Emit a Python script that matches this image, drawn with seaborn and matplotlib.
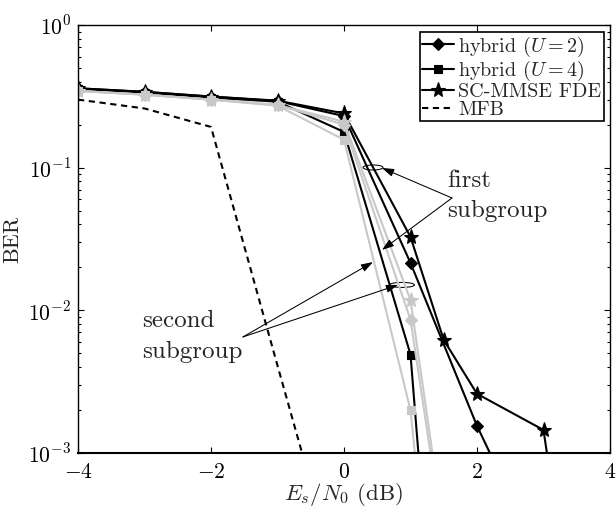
import numpy as np
import pandas as pd
import matplotlib
matplotlib.use("Agg")
import matplotlib.pyplot as plt
import seaborn as sns
from matplotlib.ticker import FixedLocator, FuncFormatter, LogLocator, NullFormatter
from matplotlib.patches import Ellipse
from matplotlib.transforms import ScaledTranslation

# ---- BER curves (Es/N0 in dB) ----
# first subgroup (black)
snr_sc = [-4, -3, -2, -1, 0, 1, 1.5, 2, 3, 4]
ber_sc_1 = [0.36, 0.34, 0.315, 0.295, 0.24, 0.0327, 0.0062, 0.0026, 0.00145, 1e-6]
snr_u2 = [-4, -3, -2, -1, 0, 1, 2, 2.5]
ber_u2_1 = [0.36, 0.34, 0.315, 0.293, 0.23, 0.0215, 0.00155, 5e-4]
snr_u4 = [-4, -3, -2, -1, 0, 1, 1.5]
ber_u4_1 = [0.355, 0.335, 0.31, 0.29, 0.178, 0.0049, 6e-6]

# second subgroup (grey)
snr_sub2 = [-4, -3, -2, -1, 0, 1, 1.5]
ber_sc_2 = [0.345, 0.325, 0.30, 0.275, 0.21, 0.0118, 2.8e-4]
ber_u2_2 = [0.345, 0.325, 0.30, 0.275, 0.20, 0.0086, 2.4e-4]
ber_u4_2 = [0.345, 0.325, 0.30, 0.272, 0.157, 0.002, 1e-5]

# matched filter bound
snr_mfb = [-4, -3, -2, -1, 0]
ber_mfb = [0.30, 0.26, 0.193, 0.0041, 9e-5]

labels = [r"hybrid ($U=2$)", r"hybrid ($U=4$)", "SC-MMSE FDE", "MFB"]
x_ticks = [-4, -2, 0, 2, 4]
y_ticks = [1e-3, 1e-2, 1e-1, 1e0]

sns.set_style("ticks")
plt.rcParams["font.family"] = ["cmr10"]
plt.rcParams["mathtext.fontset"] = "cm"
plt.rcParams["axes.unicode_minus"] = False
plt.rcParams["axes.formatter.use_mathtext"] = True

fig = plt.figure(figsize=(6.16, 5.08), dpi=100)
ax = fig.add_axes([78 / 616, 55 / 508, 532 / 616, 428 / 508])

BLACK = "black"
GREY = "#c8c8c8"
LW = 1.5


def curve(x, y, color, marker, ms, **kw):
    df = pd.DataFrame({"snr": x, "ber": y})
    sns.lineplot(data=df, x="snr", y="ber", ax=ax, color=color, lw=LW,
                 marker=marker, markersize=ms, markeredgecolor=color,
                 markeredgewidth=0.8, sort=False, estimator=None, **kw)
    return ax.lines[-1]


h_u2 = curve(snr_u2, ber_u2_1, BLACK, "D", 6)
h_u4 = curve(snr_u4, ber_u4_1, BLACK, "s", 6)
h_sc = curve(snr_sc, ber_sc_1, BLACK, "*", 11)

curve(snr_sub2, ber_u4_2, GREY, "s", 6)
curve(snr_sub2, ber_u2_2, GREY, "D", 6)
curve(snr_sub2, ber_sc_2, GREY, "*", 11)

h_mfb = curve(snr_mfb, ber_mfb, BLACK, None, 0, linestyle=(0, (3.0, 2.2)))

ax.set_yscale("log")
ax.set_xlim(-4, 4)
ax.set_ylim(1e-3, 1)

ax.xaxis.set_major_locator(FixedLocator(x_ticks))
ax.xaxis.set_major_formatter(FuncFormatter(lambda v, p: rf"${v:g}$"))
ax.yaxis.set_major_locator(FixedLocator(y_ticks))
ax.yaxis.set_minor_locator(LogLocator(base=10, subs=np.arange(2, 10)))
ax.yaxis.set_minor_formatter(NullFormatter())
ax.yaxis.set_major_formatter(
    FuncFormatter(lambda v, p: rf"$10^{{{int(round(np.log10(v)))}}}$"))

ax.tick_params(which="both", direction="in", top=True, right=True,
               width=0.8, colors="black", labelsize=15.5)
ax.tick_params(which="major", length=4)
ax.tick_params(which="minor", length=2.5)
ax.tick_params(axis="x", pad=7)
ax.tick_params(axis="y", pad=5)
for s in ax.spines.values():
    s.set_color("black")
    s.set_linewidth(1.0)
ax.spines["bottom"].set_linewidth(1.5)

ax.set_xlabel(r"$E_s/N_0$ (dB)", fontsize=16.5, labelpad=-1)
ax.set_ylabel("BER", fontsize=16, labelpad=4)

leg = ax.legend([h_u2, h_u4, h_sc, h_mfb], labels, loc="upper right",
                bbox_to_anchor=(0.9887, 0.9836), borderaxespad=0,
                fontsize=14.5, handlelength=1.6, handletextpad=0.2,
                labelspacing=0.0, borderpad=0.12, fancybox=False,
                framealpha=1, edgecolor="black")
leg.get_frame().set_linewidth(1.2)

# subgroup annotations
akw = dict(arrowstyle="-|>,head_length=0.6,head_width=0.2", color="black",
           lw=0.75, shrinkA=0, shrinkB=0, mutation_scale=12)
for tip in [(0.571, 0.0995), (0.571, 0.0265)]:
    ax.annotate("", xy=tip, xytext=(1.624, 0.0613), arrowprops=akw)
for tip in [(0.436, 0.0218), (0.812, 0.01507)]:
    ax.annotate("", xy=tip, xytext=(-1.519, 0.00651), arrowprops=akw)

for xc, yc, w in [(0.436, 0.1003, 0.20), (0.872, 0.01507, 0.25)]:
    ax.add_patch(Ellipse((0, 0), w, 0.05, fill=False, lw=0.75, color="black",
                         transform=fig.dpi_scale_trans
                         + ScaledTranslation(xc, yc, ax.transData)))

ax.text(1.55, 0.0732, "first", fontsize=18, ha="left", va="baseline")
ax.text(1.55, 0.0451, "subgroup", fontsize=18, ha="left", va="baseline")
ax.text(-3.04, 0.00765, "second", fontsize=18, ha="left", va="baseline")
ax.text(-3.04, 0.00464, "subgroup", fontsize=18, ha="left", va="baseline")

fig.savefig("out.png", dpi=100)
